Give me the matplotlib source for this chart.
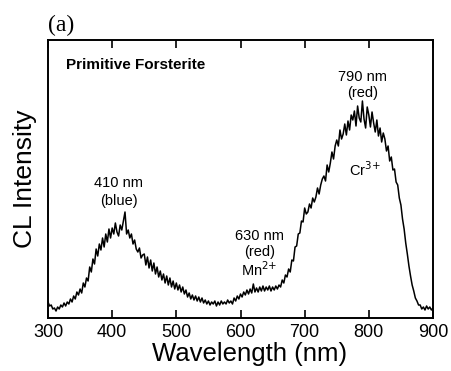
import matplotlib
matplotlib.use("Agg")
import matplotlib.pyplot as plt

plt.rcParams['font.family'] = ['Liberation Sans', 'DejaVu Sans']

wavelength = [300 + 2.5 * i for i in range(241)]
intensity = [
    16, 12, 13, 9, 10, 7, 11, 9, 13, 11,
    15, 12, 16, 14, 19, 16, 22, 19, 26, 23,
    29, 25, 35, 31, 40, 37, 51, 46, 59, 54,
    69, 62, 74, 68, 80, 71, 84, 76, 89, 80,
    90, 84, 95, 86, 82, 93, 88, 97, 106, 84,
    88, 80, 84, 74, 78, 69, 66, 70, 60, 63,
    64, 53, 61, 50, 58, 47, 55, 44, 51, 41,
    47, 38, 44, 35, 42, 33, 40, 31, 37, 29,
    35, 28, 33, 26, 31, 24, 28, 21, 25, 19,
    23, 18, 22, 17, 21, 16, 20, 15, 18, 14,
    17, 13, 16, 14, 17, 12, 16, 13, 17, 14,
    16, 14, 18, 15, 17, 14, 20, 17, 22, 19,
    24, 21, 26, 23, 28, 24, 29, 25, 34, 26,
    30, 26, 31, 27, 32, 27, 31, 28, 32, 27,
    31, 28, 32, 29, 33, 31, 38, 35, 43, 41,
    49, 46, 58, 57, 71, 72, 84, 85, 97, 96,
    110, 104, 106, 114, 110, 120, 116, 121, 130, 124,
    133, 139, 142, 137, 153, 146, 155, 166, 159, 172,
    178, 172, 188, 179, 184, 194, 183, 197, 188, 203,
    198, 207, 192, 212, 200, 196, 217, 199, 190, 211,
    203, 191, 206, 195, 186, 198, 182, 190, 176, 185,
    179, 167, 172, 157, 161, 148, 149, 136, 133, 120,
    113, 99, 89, 75, 64, 52, 42, 33, 27, 20,
    17, 13, 13, 9, 11, 8, 12, 9, 11, 8,
    10,
]
xticks = [300, 400, 500, 600, 700, 800, 900]

fig = plt.figure(figsize=(4.51, 3.71), dpi=100)
ax = fig.add_axes([48/451, 1-318/371, (433-48)/451, (318-40)/371])
ax.plot(wavelength, intensity, color='black', lw=1.1)
ax.set_xlim(300, 900)
ax.set_ylim(0, 278)
ax.set_xticks(xticks)
ax.set_yticks([])
ax.tick_params(axis='x', direction='in', length=6, width=1.2, top=True,
               labelsize=13, pad=4)
for s in ax.spines.values():
    s.set_linewidth(1.4)
ax.set_xlabel('Wavelength (nm)', fontsize=18.5, labelpad=1)
ax.xaxis.set_label_coords((250-48)/385, -0.085)
ax.xaxis.label.set_va('top')
ax.set_ylabel('CL Intensity', fontsize=19, labelpad=8)

ax.text(0.047, 0.91, 'Primitive Forsterite', transform=ax.transAxes,
        fontsize=11, fontweight='bold', va='center', ha='left')
ax.text(410, 318-183, '410 nm', ha='center', va='center', fontsize=10.5)
ax.text(410, 318-201, '(blue)', ha='center', va='center', fontsize=10.5)
ax.text(630, 318-236, '630 nm', ha='center', va='center', fontsize=10.5)
ax.text(630, 318-252, '(red)', ha='center', va='center', fontsize=10.5)
ax.text(630, 318-270, r'Mn$^{2{+}}$', ha='center', va='center', fontsize=10.5)
ax.text(790, 318-77, '790 nm', ha='center', va='center', fontsize=10.5)
ax.text(790, 318-93, '(red)', ha='center', va='center', fontsize=10.5)
ax.text(794, 318-170, r'Cr$^{3{+}}$', ha='center', va='center', fontsize=10.5)

fig.text(61/451, 1-25/371, '(a)', family='Liberation Serif', fontsize=17,
         ha='center', va='center')

fig.savefig('out.png', dpi=100)
